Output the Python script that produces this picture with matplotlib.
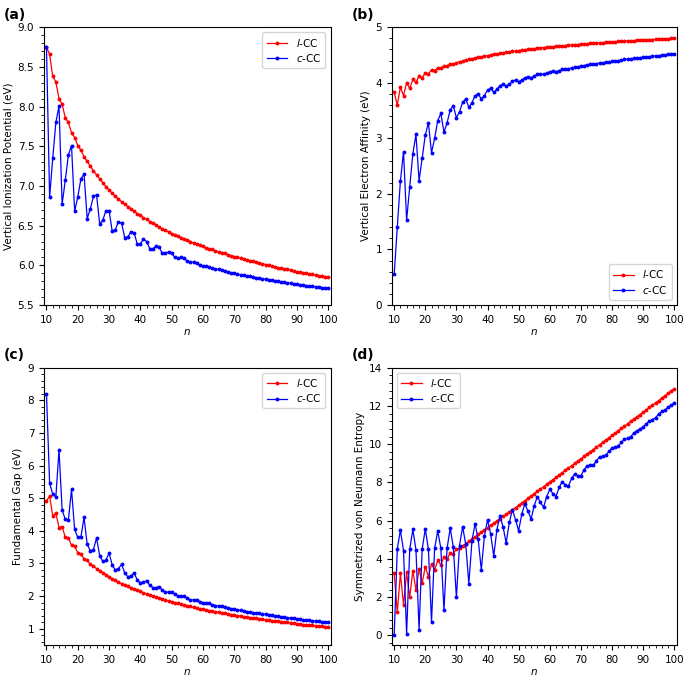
import numpy as np
import matplotlib
matplotlib.use("Agg")
import matplotlib.pyplot as plt
from matplotlib.ticker import MultipleLocator

plt.rcParams.update({
    "font.family": "DejaVu Sans", "font.size": 7,
    "mathtext.fontset": "dejavusans",
})

N = list(range(10, 101))

# (a) vertical ionization potential (eV)
ip_l = [8.75, 8.66, 8.38, 8.31, 8.10, 8.03, 7.86, 7.80, 7.67, 7.61,
        7.51, 7.45, 7.37, 7.31, 7.25, 7.19, 7.14, 7.09, 7.04, 6.99,
        6.95, 6.91, 6.87, 6.84, 6.80, 6.77, 6.74, 6.71, 6.68, 6.65,
        6.63, 6.60, 6.58, 6.55, 6.53, 6.51, 6.48, 6.46, 6.44, 6.42,
        6.40, 6.38, 6.37, 6.35, 6.33, 6.32, 6.30, 6.28, 6.27, 6.25,
        6.24, 6.22, 6.21, 6.20, 6.18, 6.17, 6.16, 6.15, 6.13, 6.12,
        6.11, 6.10, 6.09, 6.08, 6.07, 6.06, 6.05, 6.04, 6.03, 6.02,
        6.01, 6.00, 5.99, 5.98, 5.97, 5.96, 5.955, 5.95, 5.94, 5.93,
        5.92, 5.91, 5.905, 5.90, 5.89, 5.885, 5.88, 5.87, 5.865, 5.855,
        5.85]
ip_c = [8.75, 6.86, 7.35, 7.80, 8.01, 6.77, 7.07, 7.39, 7.51, 6.68,
        6.86, 7.09, 7.15, 6.59, 6.71, 6.87, 6.89, 6.52, 6.57, 6.69,
        6.69, 6.43, 6.45, 6.55, 6.53, 6.35, 6.36, 6.42, 6.41, 6.27,
        6.27, 6.33, 6.30, 6.21, 6.21, 6.24, 6.23, 6.15, 6.15, 6.17,
        6.15, 6.10, 6.09, 6.10, 6.09, 6.05, 6.04, 6.04, 6.03, 6.00,
        5.99, 5.99, 5.98, 5.96, 5.95, 5.95, 5.94, 5.925, 5.915, 5.905,
        5.90, 5.89, 5.88, 5.875, 5.865, 5.86, 5.85, 5.845, 5.84, 5.83,
        5.825, 5.82, 5.81, 5.805, 5.80, 5.79, 5.785, 5.78, 5.775, 5.77,
        5.76, 5.755, 5.75, 5.745, 5.74, 5.735, 5.73, 5.725, 5.72, 5.715,
        5.71]

# (b) vertical electron affinity (eV)
ea_l = [3.83, 3.60, 3.92, 3.77, 4.00, 3.90, 4.06, 4.01, 4.12, 4.09,
        4.18, 4.16, 4.23, 4.22, 4.27, 4.27, 4.30, 4.31, 4.33, 4.34,
        4.36, 4.38, 4.39, 4.41, 4.42, 4.43, 4.445, 4.46, 4.47, 4.48,
        4.49, 4.50, 4.51, 4.52, 4.53, 4.54, 4.55, 4.56, 4.565, 4.57,
        4.58, 4.59, 4.595, 4.60, 4.61, 4.615, 4.62, 4.63, 4.635, 4.64,
        4.645, 4.65, 4.655, 4.66, 4.665, 4.67, 4.68, 4.68, 4.69, 4.69,
        4.70, 4.70, 4.705, 4.71, 4.715, 4.72, 4.72, 4.725, 4.73, 4.735,
        4.74, 4.74, 4.745, 4.75, 4.75, 4.755, 4.76, 4.76, 4.765, 4.77,
        4.77, 4.775, 4.78, 4.78, 4.785, 4.785, 4.79, 4.79, 4.795, 4.80,
        4.80]
ea_c = [0.55, 1.40, 2.23, 2.76, 1.53, 2.13, 2.72, 3.07, 2.24, 2.64,
        3.06, 3.28, 2.74, 3.00, 3.32, 3.45, 3.11, 3.28, 3.51, 3.59,
        3.37, 3.48, 3.65, 3.71, 3.56, 3.64, 3.77, 3.80, 3.71, 3.77,
        3.87, 3.90, 3.83, 3.88, 3.95, 3.98, 3.94, 3.97, 4.03, 4.05,
        4.02, 4.05, 4.09, 4.11, 4.09, 4.12, 4.15, 4.16, 4.15, 4.17,
        4.20, 4.21, 4.20, 4.22, 4.24, 4.25, 4.25, 4.27, 4.28, 4.29,
        4.30, 4.31, 4.32, 4.33, 4.34, 4.345, 4.355, 4.36, 4.37, 4.38,
        4.385, 4.395, 4.40, 4.41, 4.42, 4.425, 4.43, 4.44, 4.445, 4.45,
        4.46, 4.465, 4.47, 4.48, 4.485, 4.49, 4.495, 4.50, 4.51, 4.515,
        4.52]

# (c) fundamental gap (eV)
gap_l = [4.92, 5.06, 4.46, 4.54, 4.10, 4.13, 3.80, 3.79, 3.55, 3.52,
         3.33, 3.29, 3.14, 3.09, 2.98, 2.92, 2.84, 2.78, 2.71, 2.65,
         2.59, 2.53, 2.48, 2.43, 2.38, 2.34, 2.295, 2.25, 2.21, 2.17,
         2.14, 2.10, 2.07, 2.03, 2.00, 1.97, 1.93, 1.90, 1.875, 1.85,
         1.82, 1.79, 1.775, 1.75, 1.72, 1.705, 1.68, 1.65, 1.635, 1.61,
         1.595, 1.57, 1.555, 1.54, 1.515, 1.50, 1.48, 1.47, 1.44, 1.43,
         1.41, 1.40, 1.385, 1.37, 1.355, 1.34, 1.33, 1.315, 1.30, 1.285,
         1.27, 1.26, 1.245, 1.23, 1.22, 1.205, 1.195, 1.19, 1.175, 1.16,
         1.15, 1.135, 1.125, 1.12, 1.105, 1.10, 1.09, 1.08, 1.07, 1.055,
         1.05]
gap_c = [8.20, 5.46, 5.12, 5.04, 6.48, 4.64, 4.35, 4.32, 5.27, 4.04,
         3.80, 3.81, 4.41, 3.59, 3.39, 3.42, 3.78, 3.24, 3.06, 3.10,
         3.32, 2.95, 2.80, 2.84, 2.97, 2.71, 2.59, 2.62, 2.70, 2.50,
         2.40, 2.43, 2.47, 2.33, 2.26, 2.26, 2.29, 2.18, 2.12, 2.12,
         2.13, 2.05, 2.00, 1.99, 2.00, 1.93, 1.89, 1.88, 1.88, 1.83,
         1.79, 1.78, 1.78, 1.74, 1.71, 1.70, 1.69, 1.655, 1.635, 1.615,
         1.60, 1.58, 1.56, 1.545, 1.525, 1.515, 1.495, 1.485, 1.47, 1.45,
         1.44, 1.425, 1.41, 1.395, 1.38, 1.365, 1.355, 1.34, 1.33, 1.32,
         1.30, 1.29, 1.28, 1.265, 1.255, 1.245, 1.235, 1.225, 1.21, 1.20,
         1.19]

# (d) symmetrized von Neumann entropy
ent_l = [3.24, 1.20, 3.24, 1.60, 3.29, 2.00, 3.38, 2.39, 3.47, 2.74,
         3.59, 3.08, 3.73, 3.41, 3.92, 3.69, 4.11, 3.97, 4.32, 4.27,
         4.51, 4.55, 4.70, 4.77, 4.93, 5.05, 5.16, 5.28, 5.40, 5.52,
         5.63, 5.75, 5.87, 5.98, 6.10, 6.22, 6.33, 6.45, 6.57, 6.68,
         6.80, 6.92, 7.04, 7.17, 7.29, 7.41, 7.53, 7.65, 7.77, 7.90,
         8.02, 8.14, 8.26, 8.38, 8.51, 8.63, 8.75, 8.87, 8.99, 9.11,
         9.24, 9.36, 9.48, 9.60, 9.72, 9.85, 9.97, 10.09, 10.21, 10.33,
         10.46, 10.58, 10.70, 10.82, 10.94, 11.07, 11.19, 11.31, 11.43, 11.55,
         11.67, 11.80, 11.92, 12.04, 12.16, 12.28, 12.41, 12.53, 12.65, 12.77,
         12.89]
ent_c = [0.00, 4.51, 5.51, 4.44, 0.09, 4.51, 5.54, 4.48, 0.30, 4.51,
         5.57, 4.51, 0.71, 4.55, 5.47, 4.55, 1.31, 4.55, 5.61, 4.63,
         1.99, 4.70, 5.68, 4.77, 2.70, 4.95, 5.85, 5.02, 3.43, 5.19,
         6.05, 5.31, 4.15, 5.52, 6.27, 5.66, 4.84, 5.91, 6.57, 6.05,
         5.47, 6.34, 6.89, 6.49, 6.10, 6.78, 7.25, 6.96, 6.70, 7.26,
         7.63, 7.42, 7.26, 7.74, 8.03, 7.87, 7.80, 8.21, 8.43, 8.36,
         8.34, 8.66, 8.87, 8.89, 8.89, 9.13, 9.34, 9.36, 9.41, 9.62,
         9.79, 9.83, 9.91, 10.09, 10.26, 10.30, 10.40, 10.57, 10.71, 10.78,
         10.91, 11.06, 11.20, 11.29, 11.39, 11.57, 11.71, 11.79, 11.92, 12.04,
         12.15]

fig = plt.figure(figsize=(6.85, 6.77), dpi=100)

panels = [
    # (rect, label, data_l, data_c, ylabel, ylim, ymaj, ymin, legend loc)
    ([0.0642, 0.5495, 0.4185, 0.4102], "(a)", ip_l, ip_c,
     "Vertical Ionization Potential (eV)", (5.5, 9.0), 0.5, 0.1, "upper right"),
    ([0.5718, 0.5495, 0.4161, 0.4102], "(b)", ea_l, ea_c,
     "Vertical Electron Affinity (eV)", (0, 5), 1, 0.2, "lower right"),
    ([0.0642, 0.0473, 0.4185, 0.4096], "(c)", gap_l, gap_c,
     "Fundamental Gap (eV)", (0.5, 9), 1, 0.2, "upper right"),
    ([0.5718, 0.0473, 0.4161, 0.4096], "(d)", ent_l, ent_c,
     "Symmetrized von Neumann Entropy", (-0.5, 14), 2, 0.4, "upper left"),
]

for rect, lab, yl, yc, ylab, ylim, ymaj, ymin, loc in panels:
    ax = fig.add_axes(rect)
    ax.plot(N, yl, "-o", color="red", lw=0.9, ms=1.8, label="$l$-CC")
    ax.plot(N, yc, "-o", color="blue", lw=0.9, ms=1.8, label="$c$-CC")
    ax.set_xlim(9.2, 100.8)
    ax.set_ylim(*ylim)
    ax.xaxis.set_major_locator(MultipleLocator(10))
    ax.xaxis.set_minor_locator(MultipleLocator(2))
    ax.yaxis.set_major_locator(MultipleLocator(ymaj))
    ax.yaxis.set_minor_locator(MultipleLocator(ymin))
    ax.tick_params(which="major", length=3.5, width=0.8, labelsize=7.5)
    ax.tick_params(which="minor", length=2, width=0.6)
    ax.set_xlabel("$n$", fontsize=7.5, labelpad=2)
    ax.set_ylabel(ylab, fontsize=7.5, labelpad=3)
    ax.legend(loc=loc, fontsize=7.5, handlelength=2.0, borderpad=0.4,
              labelspacing=0.3)
    ax.text(-0.14, 1.045, lab, transform=ax.transAxes, fontsize=10,
            fontweight="bold", va="center", ha="left")

fig.savefig("out.png", dpi=100)
